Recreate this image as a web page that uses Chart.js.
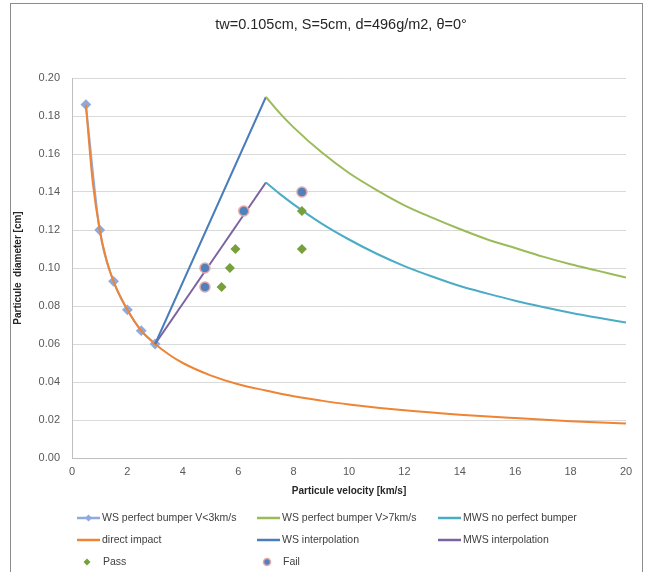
<!DOCTYPE html>
<html>
<head>
<meta charset="utf-8">
<script src="https://cdn.jsdelivr.net/npm/chart.js@4/dist/chart.umd.min.js"></script>
<style>
    body { margin: 0; background: #fff; }
    #wrap { position: relative; width: 646px; height: 572px; overflow: hidden; }
    #frame { position: absolute; left: 10px; top: 3px; width: 631px; height: 600px; border: 1px solid #8c8c8c; }
    canvas { position: absolute; left: 0; top: 0; }
</style>
</head>
<body>
<div id="wrap">
    <div id="frame"></div>
    <canvas id="impactChart" width="646" height="572"></canvas>
</div>
<script>
const chartTitle = 'tw=0.105cm, S=5cm, d=496g/m2, θ=0°';

// velocity [km/s] / diameter [cm] for each curve
const wsLowV = [0.5, 1, 1.5, 2, 2.5, 3];
const wsLowD = [0.186, 0.12, 0.093, 0.078, 0.067, 0.06];

const wsHighV = [7, 7.5, 8, 9, 10, 11, 12, 13, 14, 15, 16, 17, 18, 19, 20];
const wsHighD = [0.190, 0.1815, 0.174, 0.161, 0.150, 0.141, 0.133, 0.1265, 0.1205, 0.115, 0.1105, 0.106, 0.102, 0.0985, 0.095];

const mwsV = [7, 7.5, 8, 9, 10, 11, 12, 13, 14, 15, 16, 17, 18, 19, 20];
const mwsD = [0.145, 0.139, 0.1335, 0.1235, 0.115, 0.1075, 0.101, 0.0955, 0.0905, 0.0865, 0.0828, 0.0795, 0.0765, 0.0738, 0.0713];

const directV = [0.5, 0.75, 1, 1.25, 1.5, 2, 2.5, 3, 3.5, 4, 5, 6, 7, 8, 9, 10, 12, 14, 16, 18, 20];
const directD = [0.186, 0.145, 0.12, 0.104, 0.093, 0.078, 0.067, 0.06, 0.0545, 0.050, 0.0435, 0.0388, 0.0355, 0.0325, 0.0302, 0.0282, 0.0251, 0.0228, 0.021, 0.0194, 0.0181];

const wsInterpV = [3, 7];
const wsInterpD = [0.06, 0.19];

const mwsInterpV = [3, 7];
const mwsInterpD = [0.06, 0.145];

// test shots
const passV = [5.4, 5.7, 5.9, 8.3, 8.3];
const passD = [0.09, 0.10, 0.11, 0.13, 0.11];

const failV = [4.8, 4.8, 6.2, 8.3];
const failD = [0.09, 0.10, 0.13, 0.14];

const xTicks = [0, 2, 4, 6, 8, 10, 12, 14, 16, 18, 20];
const yTicks = [0, 0.02, 0.04, 0.06, 0.08, 0.10, 0.12, 0.14, 0.16, 0.18, 0.20];

const FONT = "'Liberation Sans', Arial, sans-serif";

function pts(xs, ys) {
    return xs.map((x, i) => ({ x: x, y: ys[i] }));
}

function curve(label, xs, ys, color, order, extra) {
    return Object.assign({
        label: label,
        data: pts(xs, ys),
        showLine: true,
        borderColor: color,
        backgroundColor: color,
        borderWidth: 2,
        pointRadius: 0,
        cubicInterpolationMode: 'monotone',
        order: order
    }, extra || {});
}

const datasets = [
    curve('WS perfect bumper V<3km/s', wsLowV, wsLowD, '#8FAADC', 5, {
        pointStyle: 'rectRot', pointRadius: 4, borderWidth: 2
    }),
    curve('WS perfect bumper V>7km/s', wsHighV, wsHighD, '#9BBB59', 3),
    curve('MWS no perfect bumper', mwsV, mwsD, '#4BACC6', 3),
    curve('direct impact', directV, directD, '#EE8434', 4),
    curve('WS interpolation', wsInterpV, wsInterpD, '#4A7EBB', 3),
    curve('MWS interpolation', mwsInterpV, mwsInterpD, '#7D62A0', 3),
    {
        label: 'Pass',
        data: pts(passV, passD),
        showLine: false,
        pointStyle: 'rectRot',
        pointRadius: 5,
        backgroundColor: '#77A03B',
        borderColor: '#77A03B',
        borderWidth: 0,
        order: 1
    },
    {
        label: 'Fail',
        data: pts(failV, failD),
        showLine: false,
        pointStyle: 'circle',
        pointRadius: 5,
        backgroundColor: '#4F81BD',
        borderColor: '#E6A9A9',
        borderWidth: 1.5,
        order: 0
    }
];

// legend grid: three columns, three rows
const legendCols = [77, 257, 438];
const legendRows = [518, 540, 562];

function drawMarker(ctx, ds, x, y, r) {
    ctx.save();
    ctx.fillStyle = ds.backgroundColor;
    ctx.strokeStyle = ds.borderColor;
    ctx.beginPath();
    if (ds.pointStyle === 'rectRot') {
        ctx.moveTo(x, y - r);
        ctx.lineTo(x + r, y);
        ctx.lineTo(x, y + r);
        ctx.lineTo(x - r, y);
        ctx.closePath();
        ctx.fill();
    } else {
        ctx.arc(x, y, r, 0, Math.PI * 2);
        ctx.fill();
        ctx.lineWidth = 1.5;
        ctx.stroke();
    }
    ctx.restore();
}

const titleAndLegend = {
    id: 'titleAndLegend',
    afterDraw(chart) {
        const ctx = chart.ctx;
        ctx.save();

        ctx.font = '14.5px ' + FONT;
        ctx.fillStyle = '#262626';
        ctx.textAlign = 'center';
        ctx.textBaseline = 'middle';
        ctx.fillText(chartTitle, 341, 25);

        ctx.font = '10.5px ' + FONT;
        ctx.textAlign = 'left';
        ctx.fillStyle = '#404040';
        chart.data.datasets.forEach((ds, i) => {
            const x = legendCols[i % 3];
            const y = legendRows[Math.floor(i / 3)];
            if (ds.showLine) {
                ctx.strokeStyle = ds.borderColor;
                ctx.lineWidth = 2.5;
                ctx.beginPath();
                ctx.moveTo(x, y);
                ctx.lineTo(x + 23, y);
                ctx.stroke();
                if (ds.pointRadius > 0) drawMarker(ctx, ds, x + 11.5, y, 3.5);
                ctx.fillText(ds.label, x + 25, y);
            } else {
                drawMarker(ctx, ds, x + 10, y, 3.5);
                ctx.fillText(ds.label, x + 26, y);
            }
        });
        ctx.restore();
    }
};

new Chart(document.getElementById('impactChart'), {
    type: 'scatter',
    data: { datasets: datasets },
    options: {
        responsive: false,
        animation: false,
        layout: { padding: { left: 11, right: 20, top: 78, bottom: 70 } },
        plugins: {
            legend: { display: false },
            tooltip: { enabled: false },
            title: { display: false }
        },
        scales: {
            x: {
                type: 'linear',
                min: 0,
                max: 20,
                afterBuildTicks: s => { s.ticks = xTicks.map(v => ({ value: v })); },
                afterFit: s => { s.height = 44; },
                grid: { display: false, drawTicks: false },
                border: { display: true, color: '#BFBFBF', width: 1 },
                ticks: { color: '#595959', padding: 7, font: { family: FONT, size: 11 } },
                title: {
                    display: true,
                    text: 'Particule velocity [km/s]',
                    color: '#262626',
                    font: { family: FONT, size: 10, weight: 'bold' },
                    padding: { top: 4, bottom: 5 }
                }
            },
            y: {
                min: 0,
                max: 0.2,
                afterBuildTicks: s => { s.ticks = yTicks.map(v => ({ value: v })); },
                afterFit: s => { s.width = 61; },
                grid: { color: '#D9D9D9', lineWidth: 1, drawTicks: false },
                border: { display: true, color: '#BFBFBF', width: 1 },
                ticks: {
                    color: '#595959',
                    padding: 12,
                    font: { family: FONT, size: 11 },
                    callback: v => v.toFixed(2)
                },
                title: {
                    display: true,
                    text: 'Particule  diameter [cm]',
                    color: '#262626',
                    font: { family: FONT, size: 10, weight: 'bold' },
                    padding: { top: 1, bottom: 0 }
                }
            }
        }
    },
    plugins: [titleAndLegend]
});
</script>
</body>
</html>
